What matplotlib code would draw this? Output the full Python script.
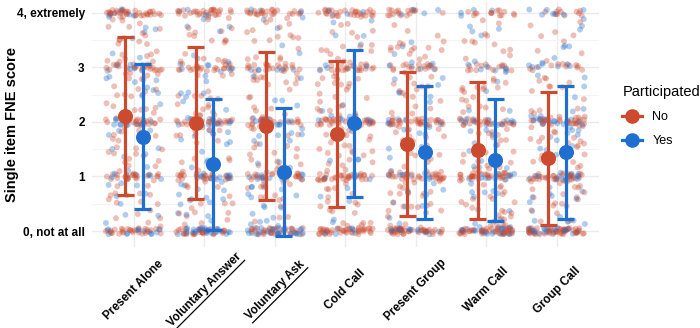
import numpy as np
import matplotlib.pyplot as plt
from matplotlib.lines import Line2D

plt.rcParams['font.family'] = ['Liberation Sans', 'DejaVu Sans']

# situations on the x axis
situations = ['Present Alone', 'Voluntary Answer', 'Voluntary Ask', 'Cold Call',
              'Present Group', 'Warm Call', 'Group Call']
underlined = ['Voluntary Answer', 'Voluntary Ask']

# response levels and how many answers sit at each one (No / Yes)
levels = [0, 0.5, 1, 1.5, 2, 2.5, 3, 3.5, 4]
counts_no = [
    [30, 18, 22, 22, 26, 24, 22, 24, 34],
    [28, 18, 20, 18, 24, 22, 20, 20, 26],
    [30, 18, 20, 20, 24, 20, 18, 20, 26],
    [42, 22, 28, 24, 28, 24, 20, 20, 26],
    [42, 24, 26, 24, 26, 20, 16, 16, 16],
    [46, 24, 28, 24, 26, 18, 14, 14, 12],
    [50, 24, 28, 22, 24, 18, 12, 10, 10],
]
counts_yes = [
    [12, 9, 8, 10, 9, 10, 6, 7, 7],
    [28, 18, 13, 14, 11, 10, 7, 7, 4],
    [28, 18, 11, 14, 9, 7, 5, 5, 3],
    [6, 5, 5, 5, 6, 6, 5, 5, 5],
    [15, 10, 9, 10, 9, 7, 5, 5, 5],
    [20, 14, 13, 13, 11, 8, 5, 5, 4],
    [20, 16, 14, 14, 16, 10, 7, 8, 7],
]

# summary: mean and standard deviation
mean_no = [2.11, 1.98, 1.92, 1.78, 1.60, 1.48, 1.33]
sd_no = [1.44, 1.39, 1.35, 1.34, 1.32, 1.25, 1.22]
mean_yes = [1.73, 1.22, 1.08, 1.97, 1.44, 1.30, 1.44]
sd_yes = [1.32, 1.20, 1.17, 1.34, 1.21, 1.11, 1.22]

red = '#CC4A2E'
blue = '#1F6FD1'

fig, ax = plt.subplots(figsize=(7, 3.28), dpi=100)
fig.subplots_adjust(left=0.131, right=0.856, top=0.995, bottom=0.247)

# jittered raw answers
rng = np.random.default_rng(3)
xs, ys, cs = [], [], []
for i in range(len(situations)):
    for counts, col in ((counts_no[i], red), (counts_yes[i], blue)):
        for lev, n in zip(levels, counts):
            spread = 0.06 if lev == int(lev) else 0.46
            xs.extend(i + 1 + rng.uniform(-0.4, 0.4, n))
            ys.extend(lev + rng.uniform(-spread, spread, n))
            cs.extend([col] * n)
order = rng.permutation(len(xs))
ax.scatter(np.array(xs)[order], np.array(ys)[order], s=18,
           c=np.array(cs)[order], alpha=0.35, linewidths=0, zorder=2)

# mean +/- sd, dodged
pos = np.arange(1, len(situations) + 1)
for off, m, sd, col in ((-0.125, mean_no, sd_no, red),
                        (0.125, mean_yes, sd_yes, blue)):
    m = np.array(m)
    sd = np.array(sd)
    ax.vlines(pos + off, m - sd, m + sd, color=col, linewidth=2.3, zorder=3)
    ax.hlines(m - sd, pos + off - 0.12, pos + off + 0.12, color=col,
              linewidth=2.3, zorder=3)
    ax.hlines(m + sd, pos + off - 0.12, pos + off + 0.12, color=col,
              linewidth=2.3, zorder=3)
    ax.plot(pos + off, m, 'o', color=col, markersize=9.8, zorder=4)

# axes
ax.set_xlim(0.4, 7.6)
ax.set_ylim(-0.29, 4.2)
ax.set_yticks([0, 1, 2, 3, 4])
ax.set_yticklabels(['0, not at all', '1', '2', '3', '4, extremely'],
                   fontsize=8.5, fontweight='bold')
ax.set_yticks([0.5, 1.5, 2.5, 3.5], minor=True)
ax.set_xticks(pos)
ax.set_xticklabels(situations, rotation=45, ha='center', va='center',
                   fontsize=8.5, fontweight='bold')
ax.tick_params(axis='x', length=0, pad=31)
ax.tick_params(axis='y', which='both', length=0, pad=5)
ax.set_ylabel('Single item FNE score', fontsize=10.5, fontweight='bold',
              va='center')
ax.yaxis.set_label_coords(-0.158, 0.5)
ax.grid(True, which='major', color='#EBEBEB', linewidth=1.0, zorder=0)
ax.grid(True, which='minor', axis='y', color='#F4F4F4', linewidth=0.8,
        zorder=0)
ax.set_axisbelow(True)
for s in ax.spines.values():
    s.set_visible(False)

# legend
handles = [Line2D([], [], color=red, marker='o', markersize=9.5, linewidth=2.3),
           Line2D([], [], color=blue, marker='o', markersize=9.5, linewidth=2.3)]
leg = fig.legend(handles, ['No', 'Yes'], title='Participated',
                 loc='upper left', bbox_to_anchor=(0.889, 0.74),
                 frameon=False, fontsize=9, title_fontsize=10.5,
                 handlelength=1.6, handletextpad=0.8, labelspacing=0.95,
                 borderpad=0, borderaxespad=0, alignment='left')

# underline some tick labels
fig.canvas.draw()
renderer = fig.canvas.get_renderer()
for lab in ax.get_xticklabels():
    if lab.get_text() in underlined:
        lab.set_rotation(0)
        bb0 = lab.get_window_extent(renderer)
        w, h = bb0.width, bb0.height
        lab.set_rotation(45)
        bb = lab.get_window_extent(renderer)
        cx, cy = (bb.x0 + bb.x1) / 2, (bb.y0 + bb.y1) / 2
        c = np.sqrt(0.5)
        p1 = (cx + c * (h - w) / 2 + 1, cy - c * (w + h) / 2 - 1)
        p2 = (cx + c * (w + h) / 2 + 1, cy + c * (w - h) / 2 - 1)
        pts = fig.transFigure.inverted().transform([p1, p2])
        fig.add_artist(Line2D(pts[:, 0], pts[:, 1], color='black',
                              linewidth=0.9, transform=fig.transFigure))

fig.savefig('out.png', dpi=100)
